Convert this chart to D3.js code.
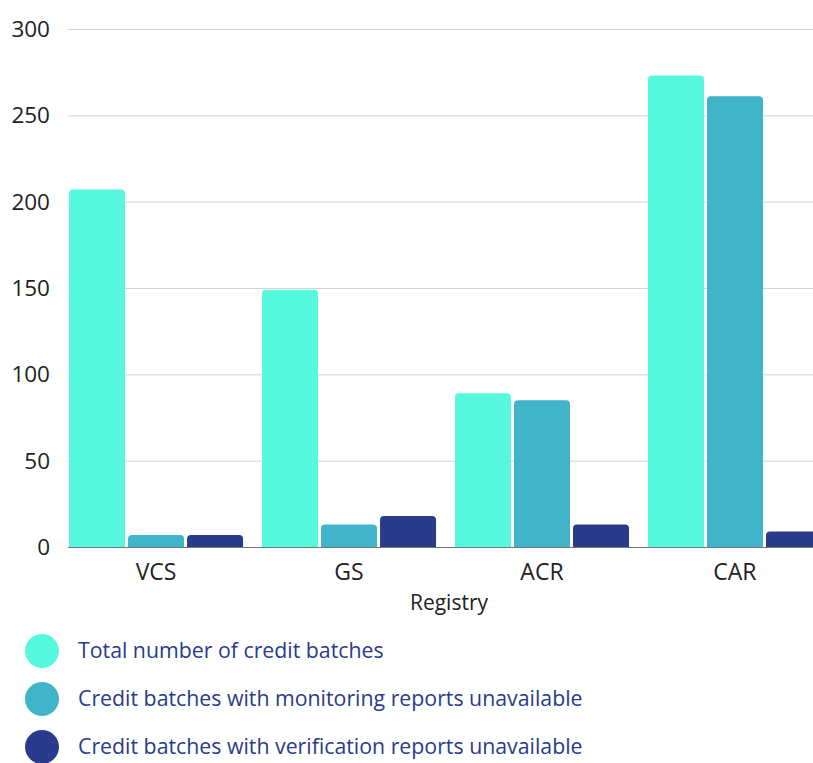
<!DOCTYPE html>
<html>
<head>
<meta charset="utf-8">
<script src="https://cdn.jsdelivr.net/npm/d3@7"></script>
<style>
  body { margin: 0; background: #fff; }
  svg { font-family: "Open Sans", sans-serif; display: block; }
</style>
</head>
<body>
<div class="canvas"></div>
<script>
const registries = ["VCS", "GS", "ACR", "CAR"];
const seriesNames = [
  "Total number of credit batches",
  "Credit batches with monitoring reports unavailable",
  "Credit batches with verification reports unavailable"
];
const totalBatches = [207, 149, 89, 273];
const monitoringUnavailable = [7, 13, 85, 261];
const verificationUnavailable = [7, 18, 13, 9];
const yTicks = [0, 50, 100, 150, 200, 250, 300];
const colors = ["#56f9dd", "#40b4c8", "#2a3b8b"];

const seriesValues = [totalBatches, monitoringUnavailable, verificationUnavailable];
const data = registries.map((r, i) => ({
  registry: r,
  values: seriesValues.map((vals, s) => ({ key: s, value: vals[i] }))
}));

const width = 813, height = 763;
const svg = d3.select(".canvas").append("svg")
  .attr("width", width)
  .attr("height", height);

const plotLeft = 68, plotRight = 813;
const y = d3.scaleLinear().domain([0, 300]).range([547, 29]);
const x0 = d3.scaleBand().domain(registries).range([69, 822]).paddingInner(0.098).paddingOuter(0);
const x1 = d3.scaleBand().domain([0, 1, 2]).range([0, x0.bandwidth()]).paddingInner(0.051);

// gridlines
svg.append("g")
  .selectAll("line")
  .data(yTicks.filter(d => d > 0))
  .join("line")
  .attr("x1", plotLeft)
  .attr("x2", plotRight)
  .attr("y1", d => y(d) + 0.5)
  .attr("y2", d => y(d) + 0.5)
  .attr("stroke", "#d4d4d4")
  .attr("stroke-width", 1);

// y labels
svg.append("g")
  .selectAll("text")
  .data(yTicks)
  .join("text")
  .attr("x", 50)
  .attr("y", d => y(d))
  .attr("dy", "0.35em")
  .attr("text-anchor", "end")
  .attr("font-size", 22.5)
  .attr("fill", "#222")
  .text(d => d);

// rounded-top bar path
function barPath(x, yTop, w, h, r) {
  r = Math.min(r, h, w / 2);
  return `M${x},${yTop + h}V${yTop + r}Q${x},${yTop} ${x + r},${yTop}H${x + w - r}Q${x + w},${yTop} ${x + w},${yTop + r}V${yTop + h}Z`;
}

const groups = svg.append("g")
  .selectAll("g")
  .data(data)
  .join("g")
  .attr("transform", d => `translate(${x0(d.registry)},0)`);

groups.selectAll("path")
  .data(d => d.values)
  .join("path")
  .attr("fill", d => colors[d.key])
  .attr("d", d => barPath(x1(d.key), y(d.value), x1.bandwidth(), y(0) - y(d.value), 4));

// baseline
svg.append("line")
  .attr("x1", plotLeft)
  .attr("x2", plotRight)
  .attr("y1", y(0) + 0.5)
  .attr("y2", y(0) + 0.5)
  .attr("stroke", "#777")
  .attr("stroke-width", 1);

// x labels
svg.append("g")
  .selectAll("text")
  .data(registries)
  .join("text")
  .attr("x", d => x0(d) + x0.bandwidth() / 2)
  .attr("y", 580)
  .attr("text-anchor", "middle")
  .attr("font-size", 23)
  .attr("fill", "#222")
  .text(d => d);

svg.append("text")
  .attr("x", 449)
  .attr("y", 610)
  .attr("text-anchor", "middle")
  .attr("font-size", 21)
  .attr("fill", "#222")
  .text("Registry");

// legend
const legend = svg.append("g")
  .selectAll("g")
  .data(seriesNames)
  .join("g")
  .attr("transform", (d, i) => `translate(0,${651 + i * 48})`);

legend.append("circle")
  .attr("cx", 42)
  .attr("cy", 0)
  .attr("r", 17)
  .attr("fill", (d, i) => colors[i]);

legend.append("text")
  .attr("x", 78)
  .attr("y", 0)
  .attr("dy", "0.35em")
  .attr("font-size", 21.3)
  .attr("fill", "#2a3b8b")
  .text(d => d);
</script>
</body>
</html>
